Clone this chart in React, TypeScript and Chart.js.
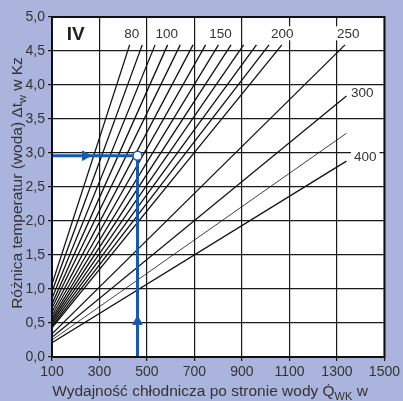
import { useEffect, useRef } from 'react';
import { Chart, registerables } from 'chart.js';

Chart.register(...registerables);

// Water flow rates (l/h) of the fan lines
const flowRates = [80, 90, 100, 110, 120, 130, 140, 150, 160, 170, 180, 190, 200, 250, 300, 350, 400];
// Each line runs from (startQ, startDt) to (endQ, endDt)
const startQ = [100, 100, 100, 100, 100, 100, 100, 100, 100, 100, 100, 100, 100, 100, 100, 100, 100];
const startDt = [1.07, 0.96, 0.86, 0.78, 0.72, 0.66, 0.61, 0.57, 0.54, 0.51, 0.48, 0.45, 0.43, 0.34, 0.29, 0.25, 0.21];
const endQ = [427, 480, 534, 587, 640, 694, 747, 801, 854, 907, 961, 1014, 1068, 1334, 1340, 1340, 1340];
const endDt = [4.59, 4.59, 4.59, 4.59, 4.59, 4.59, 4.59, 4.59, 4.59, 4.59, 4.59, 4.59, 4.59, 4.59, 3.84, 3.29, 2.88];
const thinFlows = [350];

// Flow labels placed next to the lines
const labelTexts = ['80', '100', '150', '200', '250', '300', '400'];
const labelQ = [436, 583, 810, 1070, 1348, 1407, 1419];
const labelDt = [4.76, 4.76, 4.76, 4.76, 4.76, 3.88, 2.94];

// Worked example: reading path
const exampleQ = 460;
const exampleDt = 2.96;
const arrowQ = [240, 460];
const arrowDt = [2.96, 0.52];
const arrowRotation = [90, 0];

const panelLabel = 'IV';
const panelQ = 200;
const panelDt = 4.76;

const xMin = 100;
const xMax = 1500;
const xStep = 200;
const yMin = 0;
const yMax = 5;
const yStep = 0.5;

const BG = '#aab4dc';
const BLUE = '#1659b0';
const TEXT = '#333333';
const FONT = "'Liberation Sans', Arial, Helvetica, sans-serif";

type Part = { t: string; sub?: boolean };

function drawRich(ctx: CanvasRenderingContext2D, parts: Part[], cx: number, cy: number, size: number) {
  const subSize = Math.round(size * 0.72);
  const widths = parts.map((p) => {
    ctx.font = `${p.sub ? subSize : size}px ${FONT}`;
    return ctx.measureText(p.t).width;
  });
  const total = widths.reduce((a, b) => a + b, 0);
  let x = cx - total / 2;
  ctx.textBaseline = 'alphabetic';
  ctx.textAlign = 'left';
  parts.forEach((p, i) => {
    ctx.font = `${p.sub ? subSize : size}px ${FONT}`;
    ctx.fillText(p.t, x, cy + (p.sub ? size * 0.28 : 0));
    x += widths[i];
  });
}

const decorPlugin = {
  id: 'decor',
  beforeDraw(chart: any) {
    const { ctx, width, height, chartArea: a } = chart;
    ctx.save();
    ctx.fillStyle = BG;
    ctx.fillRect(0, 0, width, height);
    ctx.fillStyle = '#ffffff';
    ctx.fillRect(a.left, a.top, a.right - a.left, a.bottom - a.top);
    ctx.restore();
  },
  afterDatasetsDraw(chart: any) {
    const { ctx, chartArea: a, scales } = chart;
    const xs = scales.x;
    const ys = scales.y;
    ctx.save();
    ctx.font = `13.5px ${FONT}`;
    ctx.textAlign = 'center';
    ctx.textBaseline = 'middle';
    labelTexts.forEach((t, i) => {
      const px = xs.getPixelForValue(labelQ[i]);
      const py = ys.getPixelForValue(labelDt[i]);
      const w = ctx.measureText(t).width;
      ctx.fillStyle = '#ffffff';
      ctx.fillRect(px - w / 2 - 3, py - 7, w + 6, 14);
      ctx.fillStyle = TEXT;
      ctx.fillText(t, px, py + 0.5);
    });
    ctx.font = `bold 19px ${FONT}`;
    ctx.fillStyle = '#222222';
    ctx.fillText(panelLabel, xs.getPixelForValue(panelQ), ys.getPixelForValue(panelDt) + 1);
    ctx.strokeStyle = '#111111';
    ctx.lineWidth = 2;
    ctx.strokeRect(a.left, a.top, a.right - a.left, a.bottom - a.top);
    ctx.restore();
  },
  afterDraw(chart: any) {
    const { ctx } = chart;
    ctx.save();
    ctx.fillStyle = TEXT;
    drawRich(
      ctx,
      [{ t: 'Wydajność chłodnicza po stronie wody Q\u0307' }, { t: 'WK', sub: true }, { t: ' w' }],
      210,
      396,
      15.5
    );
    ctx.translate(22, 183);
    ctx.rotate(-Math.PI / 2);
    drawRich(
      ctx,
      [{ t: 'Różnica temperatur (woda) Δt' }, { t: 'w', sub: true }, { t: ' w Kz' }],
      0,
      0,
      15.5
    );
    ctx.restore();
  },
};

export default function App() {
  const canvasRef = useRef<HTMLCanvasElement | null>(null);

  useEffect(() => {
    document.body.style.margin = '0';
    document.body.style.background = BG;
    const canvas = canvasRef.current;
    if (!canvas) return;

    const fanSets = flowRates.map((v, i) => ({
      label: `${v} l/h`,
      data: [
        { x: startQ[i], y: startDt[i] },
        { x: endQ[i], y: endDt[i] },
      ],
      showLine: true,
      borderColor: '#111111',
      borderWidth: thinFlows.includes(v) ? 0.8 : 1.3,
      pointRadius: 0,
      order: 2,
    }));

    const chart = new Chart(canvas, {
      type: 'scatter',
      data: {
        datasets: [
          {
            label: 'marker',
            data: [{ x: exampleQ, y: exampleDt }],
            pointRadius: 4.5,
            pointBackgroundColor: '#ffffff',
            pointBorderColor: BLUE,
            pointBorderWidth: 1.5,
            order: 0,
          },
          {
            label: 'arrows',
            data: arrowQ.map((q, i) => ({ x: q, y: arrowDt[i] })),
            pointStyle: 'triangle',
            pointRadius: 5.5,
            pointRotation: arrowRotation,
            pointBackgroundColor: BLUE,
            pointBorderColor: BLUE,
            pointBorderWidth: 1,
            order: 0,
          },
          {
            label: 'path',
            data: [
              { x: xMin, y: exampleDt },
              { x: exampleQ, y: exampleDt },
              { x: exampleQ, y: yMin },
            ],
            showLine: true,
            borderColor: BLUE,
            borderWidth: 3,
            pointRadius: 0,
            order: 1,
          },
          ...fanSets,
        ] as any,
      },
      options: {
        animation: false,
        responsive: false,
        devicePixelRatio: 1,
        layout: { padding: { top: 17, right: 18, left: 0, bottom: 0 } },
        plugins: { legend: { display: false }, tooltip: { enabled: false } },
        scales: {
          x: {
            type: 'linear',
            min: xMin,
            max: xMax,
            afterFit: (s: any) => {
              s.height = 44;
            },
            ticks: {
              stepSize: xStep,
              color: TEXT,
              padding: 3,
              font: { family: FONT, size: 14 },
              callback: (v: any) => String(v),
            },
            grid: { color: '#1a1a1a', lineWidth: 1.2, tickLength: 4 },
            border: { display: false },
          },
          y: {
            min: yMin,
            max: yMax,
            afterFit: (s: any) => {
              s.width = 52;
            },
            ticks: {
              stepSize: yStep,
              color: TEXT,
              padding: 3,
              font: { family: FONT, size: 14 },
              callback: (v: any) => Number(v).toFixed(1).replace('.', ','),
            },
            grid: { color: '#1a1a1a', lineWidth: 1.2, tickLength: 4 },
            border: { display: false },
          },
        },
      },
      plugins: [decorPlugin],
    });

    return () => chart.destroy();
  }, []);

  return (
    <div style={{ width: 403, height: 401 }}>
      <canvas ref={canvasRef} width={403} height={401} style={{ display: 'block' }} />
    </div>
  );
}
